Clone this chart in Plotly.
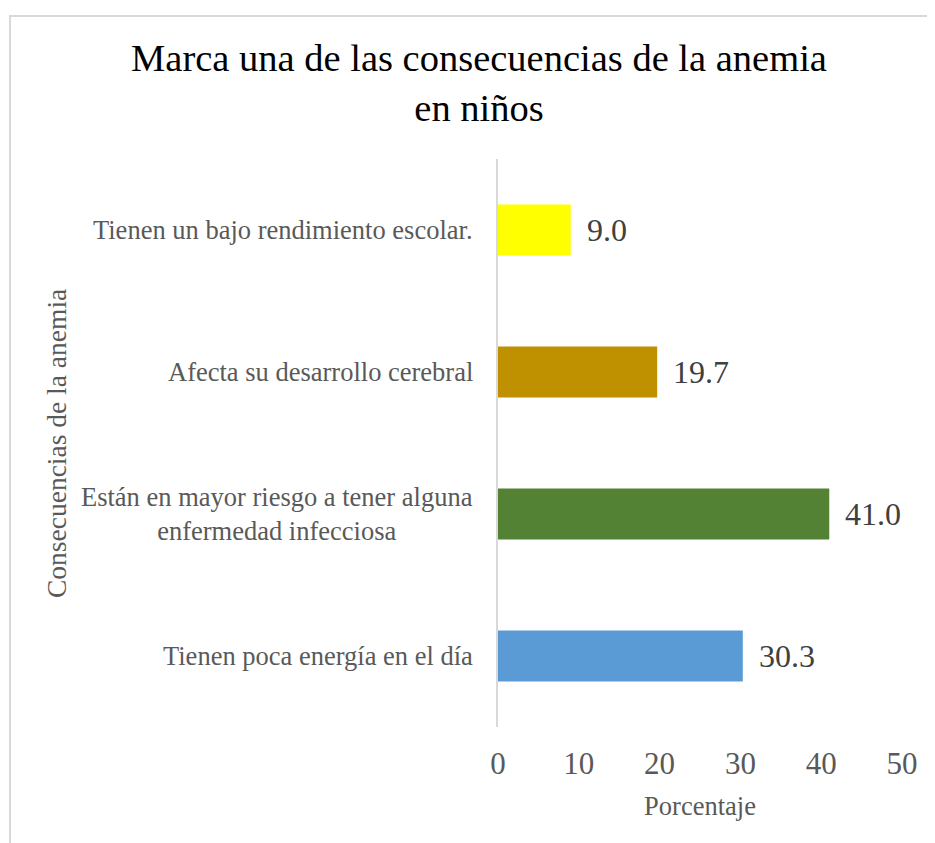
import plotly.graph_objects as go

categories = [
    "Tienen un bajo rendimiento escolar.",
    "Afecta su desarrollo cerebral",
    "Están en mayor riesgo a tener alguna<br>enfermedad infecciosa",
    "Tienen poca energía en el día",
]
values = [9.0, 19.7, 41.0, 30.3]
colors = ["#FFFF00", "#BF9000", "#548235", "#5B9BD5"]
x_ticks = [0, 10, 20, 30, 40, 50]

title_text = "Marca una de las consecuencias de la anemia<br>en niños"
x_title = "Porcentaje"
y_title = "Consecuencias de la anemia"

W, H = 927, 835
L, R, T, B = 490, 33, 151, 116
pw = W - L - R
ph = H - T - B

FONT = "Liberation Serif, Times New Roman, serif"

fig = go.Figure()
fig.add_trace(go.Bar(
    x=values, y=categories, orientation="h",
    marker=dict(color=colors, line=dict(width=0)),
    width=0.36,
    hoverinfo="x+y",
))

annotations = []
# category labels (centered multi-line like the reference)
for c in categories:
    annotations.append(dict(
        x=-23 / pw, xref="paper", y=c, yref="y",
        text=c, showarrow=False, xanchor="right", yanchor="middle",
        align="center",
        font=dict(family=FONT, size=26.5, color="#595959"),
    ))
# value labels
for c, v in zip(categories, values):
    annotations.append(dict(
        x=v, xref="x", y=c, yref="y",
        text=f"{v:.1f}", showarrow=False, xanchor="left", yanchor="middle",
        xshift=14,
        font=dict(family=FONT, size=32, color="#404040"),
    ))
# y axis title
annotations.append(dict(
    x=(48 - L) / pw, xref="paper", y=0.5, yref="paper",
    text=y_title, showarrow=False, textangle=-90,
    xanchor="center", yanchor="middle",
    font=dict(family=FONT, size=27.5, color="#595959"),
))

fig.update_layout(
    width=W, height=H,
    margin=dict(l=L, r=R, t=T, b=B, pad=0),
    paper_bgcolor="white", plot_bgcolor="white",
    showlegend=False,
    title=dict(
        text=title_text,
        x=471 / W, xref="container", xanchor="center",
        y=1 - 63 / H, yref="container", yanchor="top",
        font=dict(family=FONT, size=38.5, color="#000000"),
    ),
    xaxis=dict(
        range=[0, 50], tickvals=x_ticks, ticktext=[str(t) for t in x_ticks],
        showgrid=False, zeroline=False, showline=False, ticks="",
        tickfont=dict(family=FONT, size=31, color="#595959"),
        ticklabelstandoff=15,
        title=dict(text=x_title, standoff=16,
                   font=dict(family=FONT, size=26.5, color="#595959")),
        fixedrange=True,
    ),
    yaxis=dict(
        categoryorder="array", categoryarray=categories,
        autorange="reversed",
        showticklabels=False, showgrid=False, zeroline=False,
        showline=True, linecolor="#D9D9D9", linewidth=1.5, ticks="",
        fixedrange=True,
    ),
    annotations=annotations,
    shapes=[dict(
        type="rect", xref="paper", yref="paper",
        x0=(2 - L) / pw, x1=2.0,
        y0=-2.0, y1=(H - B - 8) / ph,
        line=dict(color="#D9D9D9", width=2), fillcolor="rgba(0,0,0,0)",
        layer="below",
    )],
)

fig.write_html("out.html")
